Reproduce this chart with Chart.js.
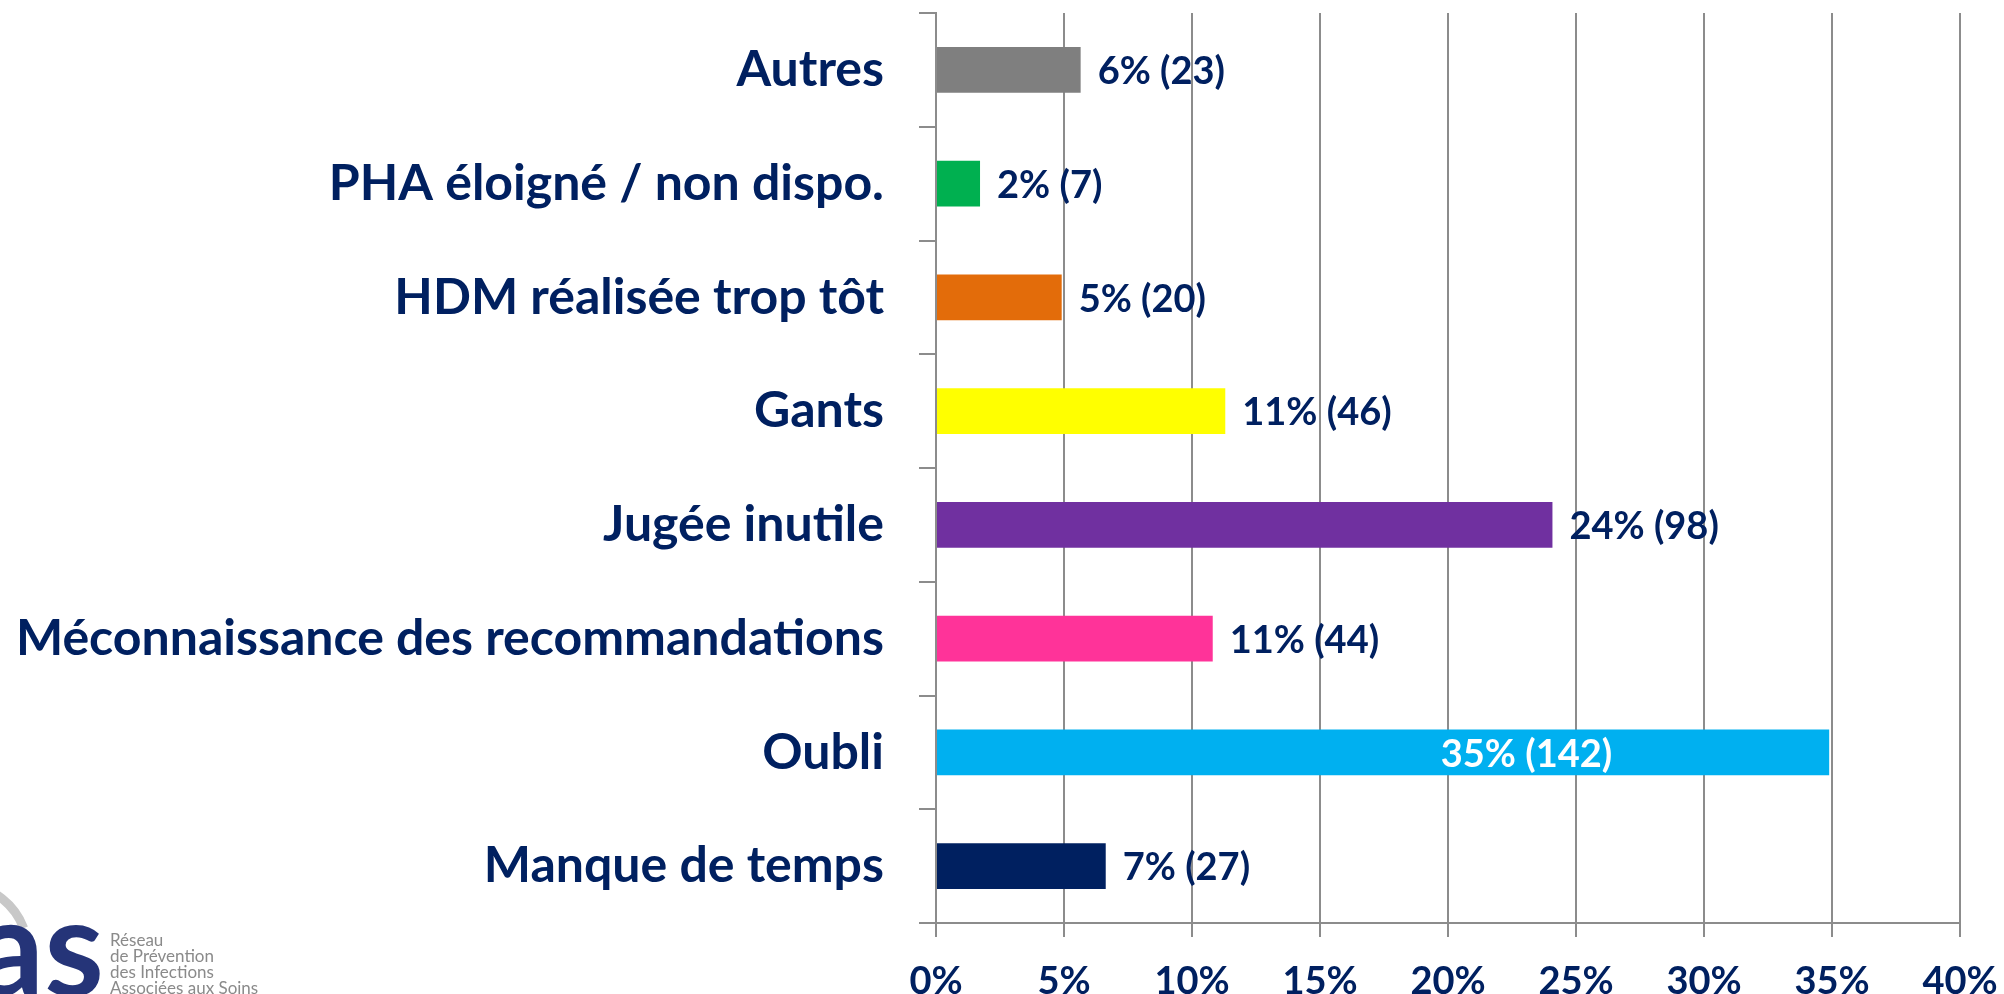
<!DOCTYPE html>
<html>
<head>
<meta charset="utf-8">
<script src="https://cdn.jsdelivr.net/npm/chart.js@4.4.1/dist/chart.umd.min.js"></script>
<style>
  html, body { margin: 0; padding: 0; background: #fff; }
  #wrap { width: 2004px; height: 994px; position: relative; }
</style>
</head>
<body>
<div id="wrap"><canvas id="js-barChart"></canvas></div>
<script>
// data
var categories = ["Autres", "PHA éloigné / non dispo.", "HDM réalisée trop tôt", "Gants",
    "Jugée inutile", "Méconnaissance des recommandations", "Oubli", "Manque de temps"];
var percents = [5.65, 1.72, 4.91, 11.30, 24.08, 10.81, 34.89, 6.63];
var counts = [23, 7, 20, 46, 98, 44, 142, 27];
var xTicks = [0, 5, 10, 15, 20, 25, 30, 35, 40];

var barColors = ['#7f7f7f', '#00b050', '#e36c0a', '#ffff00', '#7030a0', '#ff3399', '#00b0f0', '#002060'];
var navy = '#002060';
var gridGray = '#8c8c8c';

Chart.defaults.font.family = 'Lato';
Chart.defaults.font.weight = 'bold';
Chart.defaults.color = navy;

// value labels "6% (23)" at bar ends
var valueLabels = {
    id: 'valueLabels',
    afterDatasetsDraw: function (chart) {
        var ctx = chart.ctx;
        var meta = chart.getDatasetMeta(0);
        ctx.save();
        ctx.font = 'bold 38px Lato';
        ctx.textBaseline = 'middle';
        meta.data.forEach(function (bar, i) {
            var txt = Math.round(percents[i]) + '% (' + counts[i] + ')';
            if (percents[i] > 30) {
                ctx.fillStyle = '#fff';
                ctx.textAlign = 'right';
                ctx.fillText(txt, bar.x - 217, bar.y + 2);
            } else {
                ctx.fillStyle = navy;
                ctx.textAlign = 'left';
                ctx.fillText(txt, bar.x + 17, bar.y + 2);
            }
        });
        ctx.restore();
    }
};

// logo bottom left
var logo = {
    id: 'logo',
    afterDraw: function (chart) {
        var ctx = chart.ctx;
        ctx.save();
        ctx.strokeStyle = '#c8c8c8';
        ctx.lineWidth = 9;
        ctx.beginPath();
        ctx.arc(-40, 952, 68, -1.45, -0.36);
        ctx.stroke();
        ctx.fillStyle = '#253478';
        ctx.font = 'bold 136px Lato';
        ctx.textAlign = 'right';
        ctx.textBaseline = 'alphabetic';
        ctx.fillText('as', 104, 996);
        ctx.fillStyle = '#8a8a8a';
        ctx.font = '17px Lato';
        ctx.textAlign = 'left';
        ["Réseau", "de Prévention", "des Infections", "Associées aux Soins"].forEach(function (t, i) {
            ctx.fillText(t, 110, 946 + i * 16);
        });
        ctx.restore();
    }
};

var ctx = document.getElementById("js-barChart").getContext("2d");
var myChart = new Chart(ctx, {
    type: 'bar',
    data: {
        labels: categories,
        datasets: [{
            data: percents,
            backgroundColor: barColors,
            borderWidth: 0,
            barPercentage: 0.404,
            categoryPercentage: 1
        }]
    },
    options: {
        indexAxis: 'y',
        responsive: true,
        maintainAspectRatio: false,
        animation: false,
        layout: { padding: { top: 13, right: 44, bottom: 0, left: 0 } },
        plugins: {
            legend: { display: false },
            tooltip: { enabled: false }
        },
        scales: {
            x: {
                min: 0,
                max: 40,
                afterBuildTicks: function (scale) {
                    scale.ticks = xTicks.map(function (v) { return { value: v }; });
                },
                ticks: {
                    callback: function (v) { return v + '%'; },
                    font: { size: 38, weight: 'bold' },
                    color: navy,
                    padding: 22,
                    maxRotation: 0,
                    autoSkip: false
                },
                grid: { color: gridGray, lineWidth: 2, tickLength: 14 },
                border: { color: gridGray, width: 2 },
                afterFit: function (scale) {
                    scale.height = 71;
                    scale.paddingLeft = 0;
                    scale.paddingRight = 0;
                }
            },
            y: {
                ticks: {
                    font: { size: 50, weight: 'bold' },
                    color: navy,
                    padding: 35
                },
                grid: { offset: true, drawOnChartArea: false, color: gridGray, lineWidth: 2, tickLength: 17 },
                border: { color: gridGray, width: 2 },
                afterFit: function (scale) {
                    scale.width = 936;
                    scale.paddingTop = 0;
                    scale.paddingBottom = 0;
                }
            }
        }
    },
    plugins: [valueLabels, logo]
});
</script>
</body>
</html>
